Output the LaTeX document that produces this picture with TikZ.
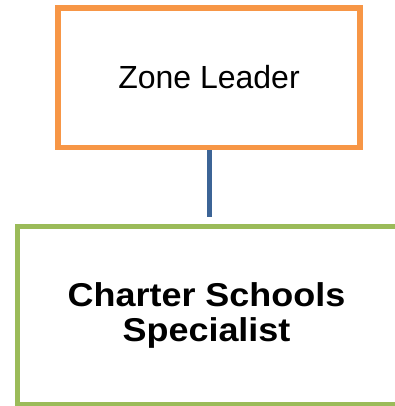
\documentclass[tikz,border=0pt]{standalone}
\usepackage{graphicx}
\usepackage{fontspec}
\setmainfont{Liberation Sans}
\definecolor{boxorange}{HTML}{F79646}
\definecolor{boxgreen}{HTML}{9BBB59}
\definecolor{linkblue}{HTML}{3C6496}
\begin{document}
\begin{tikzpicture}[x=1pt,y=-1pt,
  orgbox/.style={draw, line width=5.5pt, fill=white, inner sep=0pt},
  link/.style={draw=linkblue, line width=5pt}]
\useasboundingbox (0,0) rectangle (395,406);
\begin{scope}
\clip (0,0) rectangle (395,406);
% upper position
\node[orgbox, draw=boxorange, minimum width=302pt, minimum height=139.5pt]
  (leader) at (209,77.75) {};
\node[font=\fontsize{32}{36}\selectfont, anchor=base] (leadertext) at (209,88.3) {Zone Leader};
% lower position, running past the page edge
\node[orgbox, draw=boxgreen, minimum width=384pt, minimum height=178.5pt]
  (specialist) at (209.5,315.75) {};
% the base anchor sits on the last line's baseline
\node[font=\bfseries\fontsize{33}{35}\selectfont, align=center, anchor=base]
  (specialisttext) at (206.5,341.7)
  {\scalebox{1.09}[1]{Charter Schools}\\\scalebox{1.09}[1]{Specialist}};
% reporting line
\coordinate (linkend) at (209,216.5);
\draw[link] (leader.south) -- (linkend);
\end{scope}
\end{tikzpicture}
\end{document}
